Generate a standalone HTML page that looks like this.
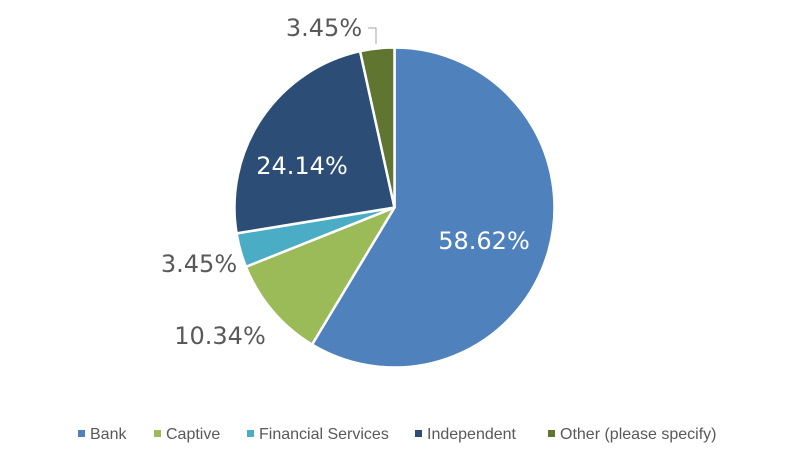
<!DOCTYPE html>
<html><head><style>
body{margin:0;background:#fff;}
svg{display:block;font-family:"Liberation Sans",sans-serif;}
</style></head><body>
<svg width="798" height="460" viewBox="0 0 798 460">
<g stroke="#fff" stroke-width="2.5" stroke-linejoin="round">
<path d="M394.5,207.5 L394.5,47.5 A160,160 0 1 1 312.0,344.6 Z" fill="#4F81BD"/>
<path d="M394.5,207.5 L312.0,344.6 A160,160 0 0 1 245.9,266.8 Z" fill="#9BBB59"/>
<path d="M394.5,207.5 L245.9,266.8 A160,160 0 0 1 236.6,233.4 Z" fill="#4BACC6"/>
<path d="M394.5,207.5 L236.6,233.4 A160,160 0 0 1 360.1,51.2 Z" fill="#2C4D75"/>
<path d="M394.5,207.5 L360.1,51.2 A160,160 0 0 1 394.5,47.5 Z" fill="#5F7530"/>
</g>
<g font-size="24" font-family="DejaVu Sans, sans-serif">
<text x="484" y="249" fill="#fff" text-anchor="middle">58.62%</text>
<text x="302" y="174" fill="#fff" text-anchor="middle">24.14%</text>
<text x="199" y="272" fill="#595959" text-anchor="middle">3.45%</text>
<text x="220" y="344" fill="#595959" text-anchor="middle">10.34%</text>
<text x="324" y="36" fill="#595959" text-anchor="middle">3.45%</text>
</g>
<polyline points="368,28 376,28 376,44" fill="none" stroke="#a6a6a6" stroke-width="1"/>
<g font-size="16" fill="#595959">
<rect x="78" y="430" width="7" height="7" fill="#4F81BD"/><text x="90" y="439">Bank</text>
<rect x="154" y="430" width="7" height="7" fill="#9BBB59"/><text x="166" y="439">Captive</text>
<rect x="247" y="430" width="7" height="7" fill="#4BACC6"/><text x="259" y="439">Financial Services</text>
<rect x="415" y="430" width="7" height="7" fill="#2C4D75"/><text x="427" y="439">Independent</text>
<rect x="548" y="430" width="7" height="7" fill="#5F7530"/><text x="560" y="439">Other (please specify)</text>
</g>
</svg>
</body></html>
